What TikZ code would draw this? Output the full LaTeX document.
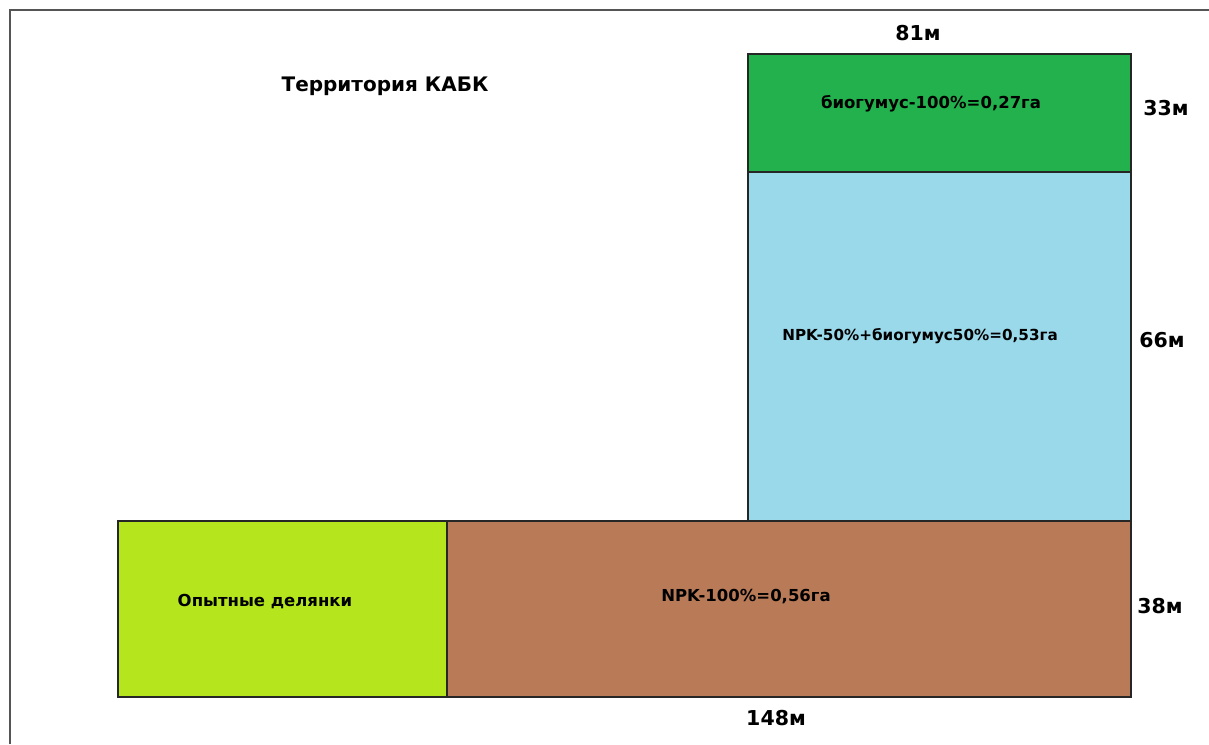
\documentclass[tikz,border=0pt]{standalone}
\usepackage{fontspec}
\setmainfont{DejaVu Sans}
\definecolor{gtop}{HTML}{22B14C}
\definecolor{gblue}{HTML}{99D9EA}
\definecolor{glime}{HTML}{B5E61D}
\definecolor{gbrown}{HTML}{B97A57}
\definecolor{framegray}{HTML}{555555}
\tikzset{
  plot/.style={draw=black!85, line width=1.4pt, inner sep=0pt, outer sep=0pt, anchor=north west},
  inlabel/.style={font=\fontsize{16.5}{19}\selectfont\bfseries, inner sep=0pt},
  dimlabel/.style={font=\fontsize{20.5}{24}\selectfont\bfseries, inner sep=0pt},
  titlelabel/.style={font=\fontsize{20}{24}\selectfont\bfseries, inner sep=0pt}
}
\begin{document}
\begin{tikzpicture}[x=1pt,y=-1pt]
\useasboundingbox (0,0) rectangle (1209,744);
\fill[white] (0,0) rectangle (1209,744);
\draw[framegray, line width=1.6pt] (10,744) -- (10,10) -- (1209,10);
% plots
\node[plot, fill=gtop, minimum width=383pt, minimum height=118pt] (bio) at (748,54) {};
\node[plot, fill=gblue, minimum width=383pt, minimum height=349pt] (mix) at (748,172) {};
\node[plot, fill=glime, minimum width=329pt, minimum height=176pt] (exp) at (118,521) {};
\node[plot, fill=gbrown, minimum width=684pt, minimum height=176pt] (npk) at (447,521) {};
% labels
\node[titlelabel] (title) at (385,86) {Территория КАБК};
\node[inlabel] (tbio) at (931,104) {биогумус-100\%=0,27га};
\node[inlabel, font=\fontsize{15.2}{18}\selectfont\bfseries] (tmix) at (920,336) {NPK-50\%+биогумус50\%=0,53га};
\node[inlabel] (tnpk) at (746,597) {NPK-100\%=0,56га};
\node[inlabel] (texp) at (265,602) {Опытные делянки};
\node[dimlabel] (d81) at (918,33) {81м};
\node[dimlabel] (d33) at (1166,108) {33м};
\node[dimlabel] (d66) at (1162,340) {66м};
\node[dimlabel] (d38) at (1160,606) {38м};
\node[dimlabel] (d148) at (776,718) {148м};
\end{tikzpicture}
\end{document}
